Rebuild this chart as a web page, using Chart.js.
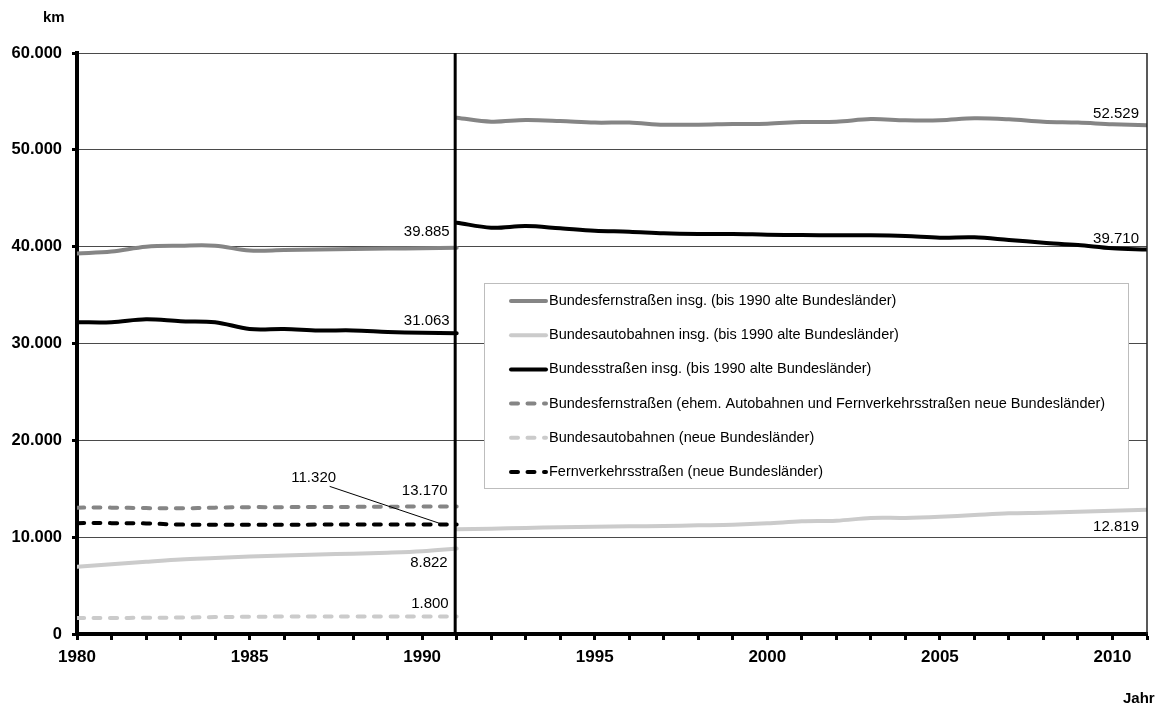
<!DOCTYPE html>
<html lang="de">
  <head>
    <meta charset="utf-8" />
    <title>Bundesfernstraßen</title>
    <style>
      html, body { margin: 0; padding: 0; background: #fff; }
      canvas { display: block; }
    </style>
  </head>
  <body>
    <canvas id="chart" width="1162" height="707"></canvas>

    <script src="https://cdn.jsdelivr.net/npm/chart.js@4.4.1/dist/chart.umd.min.js"></script>

    <script>
      // Jahre: bis 1991 getrennt nach alten / neuen Ländern, danach gesamt
      const years1 = [1980, 1981, 1982, 1983, 1984, 1985, 1986, 1987, 1988, 1989, 1990, 1991];
      const years2 = [1991, 1992, 1993, 1994, 1995, 1996, 1997, 1998, 1999, 2000, 2001,
                      2002, 2003, 2004, 2005, 2006, 2007, 2008, 2009, 2010, 2011];

      // alte Bundesländer (km)
      const fernAlt = [39300, 39500, 40000, 40100, 40100, 39600, 39650, 39700, 39750, 39800, 39830, 39885];
      const autoAlt = [6950, 7200, 7450, 7700, 7850, 8000, 8100, 8200, 8300, 8400, 8550, 8822];
      const bsAlt   = [32200, 32200, 32500, 32300, 32200, 31500, 31500, 31350, 31350, 31200, 31100, 31063];

      // Deutschland insgesamt ab 1991 (km)
      const fernGes = [53320, 52910, 53080, 52980, 52810, 52810, 52600, 52600, 52670, 52700, 52870,
                       52910, 53180, 53050, 53050, 53250, 53150, 52910, 52810, 52640, 52529];
      const autoGes = [10810, 10880, 10950, 11020, 11080, 11120, 11150, 11220, 11290, 11430, 11640,
                       11700, 11980, 11990, 12110, 12290, 12460, 12530, 12630, 12730, 12819];
      const bsGes   = [42480, 41960, 42130, 41900, 41650, 41550, 41380, 41310, 41310, 41240, 41200,
                       41170, 41170, 41100, 40930, 40960, 40690, 40410, 40170, 39830, 39710];

      // neue Bundesländer bis 1991 (km)
      const fernNeu = [13050, 13050, 13000, 12980, 13050, 13100, 13100, 13120, 13130, 13150, 13160, 13170];
      const babNeu  = [1650, 1650, 1680, 1700, 1750, 1780, 1800, 1800, 1800, 1800, 1800, 1800];
      const fvsNeu  = [11450, 11450, 11420, 11300, 11280, 11280, 11280, 11300, 11300, 11300, 11310, 11320];

      const seriesNames = [
        'Bundesfernstraßen insg. (bis 1990 alte Bundesländer)',
        'Bundesautobahnen insg. (bis 1990 alte Bundesländer)',
        'Bundesstraßen insg. (bis 1990 alte Bundesländer)',
        'Bundesfernstraßen (ehem. Autobahnen und Fernverkehrsstraßen neue Bundesländer)',
        'Bundesautobahnen (neue Bundesländer)',
        'Fernverkehrsstraßen (neue Bundesländer)'
      ];

      const GRAY = '#858585';
      const LIGHT = '#cbcbcb';
      const DASH = [7, 9.5];
      const FONT = '"Liberation Sans", Arial, Helvetica, sans-serif';

      const fmt = v => String(v).replace(/\B(?=(\d{3})+(?!\d))/g, '.');

      const pts = (xs, ys) => xs.map((x, i) => ({ x, y: ys[i] }));
      // alte Länder + Gesamt als eine Linie mit Lücke beim Wechsel 1991
      const joined = (a, b) => [...pts(years1, a), { x: 1991, y: null }, ...pts(years2, b)];

      const lineopts = {
        borderWidth: 4,
        pointRadius: 0,
        tension: 0.35,
        borderCapStyle: 'round',
        borderJoinStyle: 'round',
        spanGaps: false,
        fill: false
      };

      const datasets = [
        { label: seriesNames[0], data: joined(fernAlt, fernGes), borderColor: GRAY, ...lineopts },
        { label: seriesNames[1], data: joined(autoAlt, autoGes), borderColor: LIGHT, ...lineopts },
        { label: seriesNames[2], data: joined(bsAlt, bsGes), borderColor: '#000', ...lineopts },
        { label: seriesNames[3], data: pts(years1, fernNeu), borderColor: GRAY, borderDash: DASH, ...lineopts },
        { label: seriesNames[4], data: pts(years1, babNeu), borderColor: LIGHT, borderDash: DASH, ...lineopts },
        { label: seriesNames[5], data: pts(years1, fvsNeu), borderColor: '#000', borderDash: DASH, ...lineopts }
      ];

      // Wertbeschriftungen: Datensatz, Punktindex, Versatz in px
      const valueLabels = [
        { ds: 0, i: 11, dx: -7, dy: -16, align: 'right' },
        { ds: 2, i: 11, dx: -7, dy: -12, align: 'right' },
        { ds: 3, i: 11, dx: -9, dy: -16, align: 'right' },
        { ds: 1, i: 11, dx: -9, dy: 14, align: 'right' },
        { ds: 4, i: 11, dx: -8, dy: -13, align: 'right' },
        { ds: 5, i: 11, dx: -143, dy: -47, align: 'center', leader: [-127, -38, -14, 0] },
        { ds: 0, i: 33, dx: -8, dy: -11, align: 'right' },
        { ds: 2, i: 33, dx: -8, dy: -11, align: 'right' },
        { ds: 1, i: 33, dx: -8, dy: 17, align: 'right' }
      ];

      const framePlugin = {
        id: 'frame',
        afterDatasetsDraw(chart) {
          const { ctx, chartArea: a, scales } = chart;
          ctx.save();
          // rechter Rand
          ctx.strokeStyle = '#222';
          ctx.lineWidth = 1.5;
          ctx.beginPath();
          ctx.moveTo(a.right, a.top);
          ctx.lineTo(a.right, a.bottom);
          ctx.stroke();
          // Trennlinie Wiedervereinigung
          const x91 = scales.x.getPixelForValue(1991) - 1.5;
          ctx.strokeStyle = '#000';
          ctx.lineWidth = 3;
          ctx.beginPath();
          ctx.moveTo(x91, a.top);
          ctx.lineTo(x91, a.bottom);
          ctx.stroke();
          ctx.restore();
        }
      };

      const labelPlugin = {
        id: 'valueLabels',
        afterDatasetsDraw(chart) {
          const ctx = chart.ctx;
          ctx.save();
          ctx.font = '15px ' + FONT;
          ctx.fillStyle = '#000';
          ctx.textBaseline = 'middle';
          valueLabels.forEach(l => {
            const p = chart.getDatasetMeta(l.ds).data[l.i];
            const v = chart.data.datasets[l.ds].data[l.i].y;
            ctx.textAlign = l.align;
            ctx.fillText(fmt(v), p.x + l.dx, p.y + l.dy);
            if (l.leader) {
              ctx.strokeStyle = '#000';
              ctx.lineWidth = 1;
              ctx.beginPath();
              ctx.moveTo(p.x + l.leader[0], p.y + l.leader[1]);
              ctx.lineTo(p.x + l.leader[2], p.y + l.leader[3]);
              ctx.stroke();
            }
          });
          ctx.restore();
        }
      };

      const legendPlugin = {
        id: 'boxLegend',
        afterDatasetsDraw(chart) {
          const ctx = chart.ctx;
          const box = { x: 484.5, y: 283.5, w: 644, h: 205 };
          ctx.save();
          ctx.fillStyle = '#fff';
          ctx.strokeStyle = '#bdbdbd';
          ctx.lineWidth = 1;
          ctx.fillRect(box.x, box.y, box.w, box.h);
          ctx.strokeRect(box.x, box.y, box.w, box.h);
          ctx.font = '14.5px ' + FONT;
          ctx.textAlign = 'left';
          ctx.textBaseline = 'middle';
          chart.data.datasets.forEach((ds, k) => {
            const y = 301 + k * 34.2;
            ctx.strokeStyle = ds.borderColor;
            ctx.lineWidth = 4;
            ctx.lineCap = 'round';
            ctx.setLineDash(ds.borderDash || []);
            ctx.beginPath();
            ctx.moveTo(511, y);
            ctx.lineTo(546, y);
            ctx.stroke();
            ctx.setLineDash([]);
            ctx.fillStyle = '#000';
            ctx.fillText(ds.label, 549, y);
          });
          ctx.restore();
        }
      };

      const titlePlugin = {
        id: 'titles',
        afterDraw(chart) {
          const ctx = chart.ctx;
          ctx.save();
          ctx.font = 'bold 15px ' + FONT;
          ctx.fillStyle = '#000';
          ctx.textBaseline = 'middle';
          ctx.textAlign = 'left';
          ctx.fillText('km', 43, 18);
          ctx.fillText('Jahr', 1123, 699);
          ctx.restore();
        }
      };

      Chart.defaults.font.family = FONT;
      Chart.defaults.color = '#000';

      new Chart(document.getElementById('chart'), {
        type: 'line',
        data: { datasets },
        options: {
          responsive: false,
          animation: false,
          devicePixelRatio: 1,
          layout: { padding: { top: 53, right: 15, left: 0, bottom: 0 } },
          plugins: {
            legend: { display: false },
            tooltip: { enabled: false }
          },
          scales: {
            x: {
              type: 'linear',
              min: 1980,
              max: 2011,
              afterFit: s => { s.height = 73; },
              grid: {
                drawOnChartArea: false,
                drawTicks: true,
                tickLength: 6,
                tickWidth: 3,
                tickColor: '#000'
              },
              border: { display: true, color: '#000', width: 4 },
              ticks: {
                stepSize: 1,
                autoSkip: false,
                maxRotation: 0,
                padding: 7,
                font: { size: 17, weight: 'bold' },
                callback: v => (v % 5 === 0 ? String(v) : '')
              }
            },
            y: {
              min: 0,
              max: 60000,
              afterFit: s => { s.width = 77; },
              grid: {
                color: '#4a4a4a',
                lineWidth: 1,
                tickLength: 5,
                tickWidth: 3,
                tickColor: '#000'
              },
              border: { display: true, color: '#000', width: 4 },
              ticks: {
                stepSize: 10000,
                padding: 10,
                font: { size: 16.5, weight: 'bold' },
                callback: v => fmt(v)
              }
            }
          }
        },
        plugins: [framePlugin, legendPlugin, labelPlugin, titlePlugin]
      });
    </script>
  </body>
</html>
